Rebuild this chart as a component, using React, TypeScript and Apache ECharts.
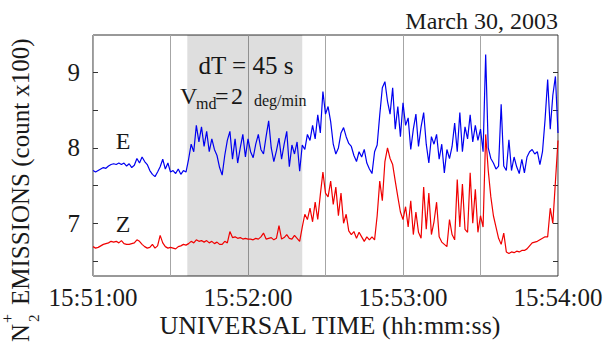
import React, { useEffect, useRef } from "react";
import * as echarts from "echarts";

// Time axis: seconds after 15:51:00, one sample per second
const TIME_LABELS = ["15:51:00", "15:52:00", "15:53:00", "15:54:00"];
const SAMPLE_STEP_S = 1;

// N2+ emission, east-looking channel (count x100)
const E_EMISSION = [
  7.70, 7.68, 7.70, 7.72, 7.74, 7.73, 7.76, 7.78, 7.79, 7.78, 7.80,
  7.78, 7.80, 7.76, 7.79, 7.74, 7.77, 7.86, 7.80, 7.88, 7.82,
  7.78, 7.70, 7.65, 7.62, 7.68, 7.75, 7.85, 7.72, 7.80, 7.68,
  7.70, 7.66, 7.72, 7.65, 7.70, 7.68, 7.85, 8.05, 7.95, 8.30,
  8.08, 8.28, 8.02, 8.22, 7.95, 8.12, 7.98, 7.90, 7.74, 7.64,
  7.90, 8.10, 8.22, 7.85, 8.12, 7.80, 8.00, 8.18, 7.88, 8.12,
  7.95, 7.87, 8.05, 8.18, 7.98, 7.92, 8.15, 8.36, 8.00, 7.82,
  7.96, 8.13, 7.85, 8.05, 8.22, 7.75, 8.04, 7.92, 8.08, 7.69,
  8.04, 7.98, 8.18, 8.10, 8.30, 8.12, 8.44, 8.20, 8.75, 8.45,
  8.55, 8.35, 8.05, 7.92, 8.00, 8.20, 8.27, 8.15, 8.06, 8.02,
  7.90, 7.82, 7.95, 7.88, 7.98, 7.80, 7.72, 7.66, 7.95, 8.04,
  8.44, 8.80, 8.88, 8.62, 8.45, 8.80, 8.25, 8.55, 8.15, 8.60,
  8.30, 8.40, 7.98, 8.25, 8.45, 8.02, 8.28, 8.47, 8.05, 7.80,
  8.15, 8.05, 8.18, 7.85, 8.05, 7.67, 7.98, 7.86, 8.02, 8.33,
  7.95, 8.47, 7.95, 8.28, 8.12, 8.44, 8.08, 8.30, 8.10, 8.25,
  7.95, 9.24, 8.00, 7.86, 7.80, 7.72, 7.76, 8.58, 7.76, 7.70,
  8.11, 7.70, 7.88, 7.75, 7.66, 7.85, 7.67, 7.88, 7.95, 7.98,
  7.92, 7.95, 7.78, 7.95, 8.38, 8.91, 8.25, 8.70, 8.95, 8.20,
];

// N2+ emission, zenith channel (count x100)
const Z_EMISSION = [
  6.69, 6.67, 6.68, 6.70, 6.72, 6.73, 6.74, 6.76, 6.75, 6.76, 6.74,
  6.77, 6.73, 6.72, 6.72, 6.73, 6.74, 6.78, 6.76, 6.72, 6.69,
  6.67, 6.68, 6.72, 6.67, 6.70, 6.84, 6.74, 6.69, 6.67, 6.68,
  6.67, 6.66, 6.69, 6.70, 6.72, 6.71, 6.73, 6.76, 6.74, 6.78,
  6.76, 6.77, 6.75, 6.77, 6.74, 6.76, 6.73, 6.75, 6.72, 6.72,
  6.76, 6.74, 6.89, 6.81, 6.82, 6.80, 6.81, 6.79, 6.80, 6.79,
  6.79, 6.78, 6.80, 6.79, 6.82, 6.87, 6.79, 6.80, 6.81, 6.78,
  6.80, 6.97, 6.79, 6.81, 6.85, 6.80, 6.79, 6.84, 6.80, 6.76,
  6.95, 7.12, 7.05, 7.20, 7.02, 7.28, 7.05, 7.38, 7.68, 7.40,
  7.35, 7.56, 7.25, 7.48, 7.10, 7.40, 7.00, 7.12, 6.90, 6.85,
  6.89, 6.80, 6.88, 6.82, 6.76, 6.82, 6.78, 6.82, 6.78, 7.10,
  7.56, 7.30, 7.82, 8.00, 7.86, 7.78, 7.56, 7.35, 7.15, 7.05,
  7.22, 6.95, 7.30, 6.85, 7.15, 6.88, 6.80, 7.48, 6.92, 7.40,
  6.85, 7.02, 7.28, 6.82, 6.75, 6.72, 6.69, 7.05, 6.85, 6.78,
  7.58, 6.95, 7.52, 6.92, 6.88, 7.67, 7.00, 7.45, 6.88, 7.10,
  6.95, 8.18, 7.70, 7.35, 7.10, 6.95, 6.80, 6.72, 6.87, 6.62,
  6.60, 6.62, 6.61, 6.63, 6.62, 6.64, 6.64, 6.66, 6.70, 6.74,
  6.75, 6.76, 6.78, 6.80, 6.82, 6.82, 7.20, 7.00, 7.55, 8.10,
];

const Y_LABEL_TICKS = [7, 8, 9];
const Y_MINOR_TICKS = [6.5, 7, 7.5, 8, 8.5, 9];

// dT = 45 s integration window (seconds after 15:51:00)
const EXPOSURE_WINDOW = [36.5, 81];

const DATE_TEXT = "March 30, 2003";
const X_TITLE = "UNIVERSAL TIME (hh:mm:ss)";

const SERIF = "Liberation Serif";
const INK = "#1a1a1a";

function txt(x: number, y: number, text: string, size: number, align = "center") {
  return {
    type: "text",
    x,
    y,
    silent: true,
    style: {
      text,
      fontSize: size,
      fontFamily: SERIF,
      fill: INK,
      align,
      textAlign: align,
      verticalAlign: "middle",
      textVerticalAlign: "middle",
    },
  };
}

export default function App() {
  const ref = useRef<HTMLDivElement>(null);

  useEffect(() => {
    if (!ref.current) return;
    const chart = echarts.init(ref.current, null, { renderer: "svg" });

    const toPairs = (vals: number[]) => vals.map((v, i) => [i * SAMPLE_STEP_S, v]);

    const yAxisBase = {
      type: "value",
      min: 6.3,
      max: 9.5,
      axisLine: { show: false },
      splitLine: { show: false },
      axisTick: {
        show: true,
        inside: true,
        length: 5,
        customValues: Y_MINOR_TICKS,
        lineStyle: { color: "#333", width: 1 },
      },
    };

    chart.setOption({
      animation: false,
      backgroundColor: "#ffffff",
      grid: {
        left: 93,
        right: 50,
        top: 35,
        bottom: 67,
        show: true,
        borderColor: "#333",
        borderWidth: 1,
        backgroundColor: "transparent",
      },
      xAxis: {
        type: "value",
        min: 0,
        max: 180,
        interval: 30,
        axisLine: { show: false },
        axisTick: { show: false },
        splitLine: { show: true, lineStyle: { color: "#a6a6a6", width: 1 } },
        axisLabel: {
          margin: 9,
          fontSize: 25,
          fontFamily: SERIF,
          color: INK,
          formatter: (v: number) => (v % 60 === 0 ? TIME_LABELS[v / 60] : ""),
        },
      },
      yAxis: [
        {
          ...yAxisBase,
          position: "left",
          axisLabel: {
            customValues: Y_LABEL_TICKS,
            margin: 13,
            fontSize: 25,
            fontFamily: SERIF,
            color: INK,
          },
        },
        {
          ...yAxisBase,
          position: "right",
          axisLabel: { show: false },
        },
      ],
      series: [
        {
          name: "window",
          type: "line",
          data: [],
          z: 1,
          markArea: {
            silent: true,
            itemStyle: { color: "rgba(0,0,0,0.13)" },
            data: [[{ xAxis: EXPOSURE_WINDOW[0] }, { xAxis: EXPOSURE_WINDOW[1] }]],
          },
        },
        {
          name: "Z",
          type: "line",
          data: toPairs(Z_EMISSION),
          showSymbol: false,
          symbol: "none",
          z: 3,
          lineStyle: { color: "#f00000", width: 1.2 },
        },
        {
          name: "E",
          type: "line",
          data: toPairs(E_EMISSION),
          showSymbol: false,
          symbol: "none",
          z: 4,
          lineStyle: { color: "#0000f0", width: 1.2 },
        },
      ],
      graphic: [
        txt(558, 21, DATE_TEXT, 24, "right"),
        txt(330, 325, X_TITLE, 26),
        txt(123, 141, "E", 24),
        txt(123, 224, "Z", 24),
        txt(246, 65, "dT = 45 s", 25),
        txt(180, 96, "V", 24, "left"),
        txt(196, 103, "md", 16, "left"),
        txt(215, 96, "=", 24, "left"),
        txt(231, 96, "2", 24, "left"),
        txt(254, 100, "deg/min", 16, "left"),
        {
          type: "group",
          x: 20,
          y: 342,
          rotation: Math.PI / 2,
          silent: true,
          children: [
            txt(0, 0, "N", 25, "left"),
            txt(20, 14, "2", 15, "left"),
            txt(19, -13, "+", 16, "left"),
            txt(37, 0, "EMISSIONS (count x100)", 25, "left"),
          ],
        },
      ],
    });

    return () => chart.dispose();
  }, []);

  return (
    <div
      ref={ref}
      style={{ position: "absolute", left: 0, top: 0, width: 608, height: 343 }}
    />
  );
}
